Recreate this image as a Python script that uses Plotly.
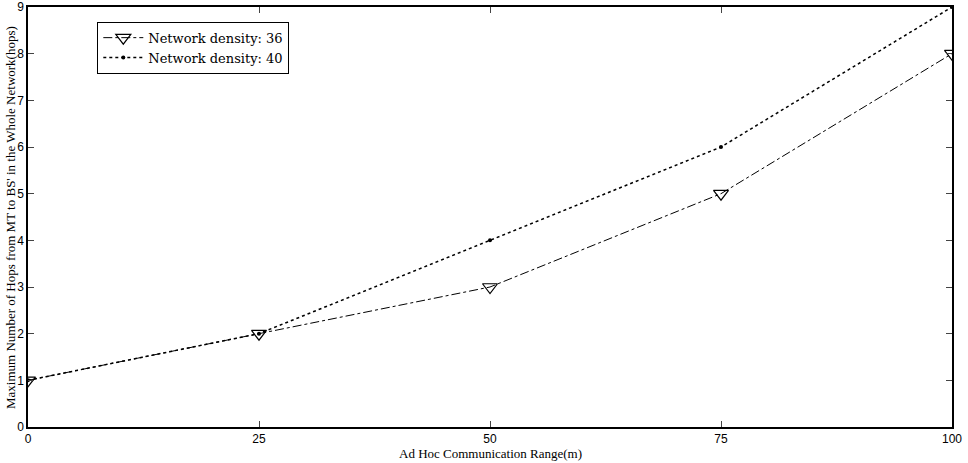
import plotly.graph_objects as go

x_range = [0, 25, 50, 75, 100]
hops_36 = [1, 2, 3, 5, 8]
hops_40 = [1, 2, 4, 6, 9]
x_ticks = [0, 25, 50, 75, 100]
y_ticks = [0, 1, 2, 3, 4, 5, 6, 7, 8, 9]

fig = go.Figure()
fig.add_trace(go.Scatter(
    x=x_range, y=hops_36, name="Network density: 36", mode="lines+markers",
    line=dict(color="black", width=1, dash="dashdot"),
    marker=dict(symbol="triangle-down-open", size=13, color="black", line=dict(width=1.2)),
))
fig.add_trace(go.Scatter(
    x=x_range, y=hops_40, name="Network density: 40", mode="lines+markers",
    line=dict(color="black", width=1.5, dash="dot"),
    marker=dict(symbol="circle", size=4, color="black"),
))

fig.update_layout(
    width=968, height=463,
    margin=dict(l=28, r=16, t=7, b=36),
    paper_bgcolor="white", plot_bgcolor="white",
    font=dict(family="Liberation Serif, Times New Roman, serif", color="black", size=13),
    legend=dict(
        x=0.075, y=0.965, xanchor="left", yanchor="top",
        bgcolor="white", bordercolor="black", borderwidth=1,
        font=dict(size=13, family="DejaVu Serif, serif"),
        tracegroupgap=0, itemwidth=40,
    ),
    showlegend=True,
    annotations=[
        dict(text="Ad Hoc Communication Range(m)", xref="paper", yref="paper",
             x=0.5, y=-0.064, xanchor="center", yanchor="middle", showarrow=False,
             font=dict(size=13, family="Liberation Serif, serif")),
        dict(text="Maximum Number of Hops from MT to BS' in the Whole Network(hops)",
             xref="paper", yref="paper", x=-0.0195, y=0.5, xanchor="center", yanchor="middle",
             textangle=-90, showarrow=False,
             font=dict(size=13, family="Liberation Serif, serif")),
    ],
)
fig.update_xaxes(
    range=[0, 100], tickvals=x_ticks, ticks="inside", ticklen=6,
    showline=True, linecolor="black", linewidth=1.5, mirror="ticks",
    showgrid=False, zeroline=False, automargin=False,
    tickfont=dict(size=12, family="Liberation Sans Narrow, Liberation Sans, sans-serif"),
)
fig.update_yaxes(
    range=[0, 9], tickvals=y_ticks, ticks="inside", ticklen=6,
    showline=True, linecolor="black", linewidth=1.5, mirror="ticks",
    showgrid=False, zeroline=False, automargin=False,
    tickfont=dict(size=12, family="Liberation Sans, sans-serif"),
)

fig.write_html("out.html", config={"displayModeBar": False},
               post_script="document.body.style.margin='0';")
